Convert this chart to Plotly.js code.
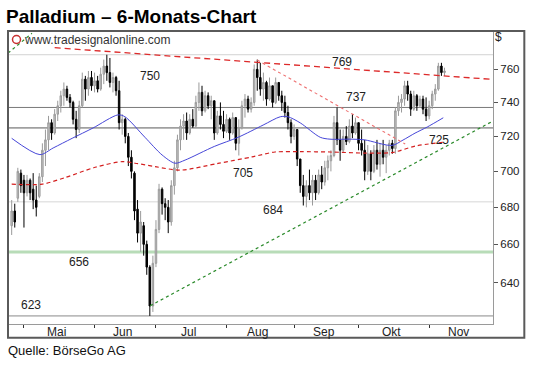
<!DOCTYPE html>
<html><head><meta charset="utf-8">
<script src="https://cdn.plot.ly/plotly-3.0.1.min.js"></script>
<style>html,body{margin:0;padding:0;background:#fff}#chart{width:540px;height:366px}</style>
</head><body><div id="chart"></div>
<script>
// ---- data (trading days from 25 Apr to 8 Nov) ----
const opens  = [670,678,685,699,695,688,695,690,684,686,697,712,718,728,722,733,738,744,748,743,740,730,724,738,754,748,755,750,753,748,757,762,758,752,755,747,728,730,720,708,699,679,666,670,660,648,628,650,668,690,682,680,672,692,702,718,726,729,722,730,726,740,746,735,744,738,741,722,732,727,723,730,722,731,716,725,738,742,736,740,760,755,748,752,742,750,740,752,744,740,734,728,720,724,707,692,686,692,688,695,688,698,694,702,706,709,728,718,712,720,717,726,722,728,716,712,700,710,700,712,704,712,708,712,716,713,735,740,742,750,745,736,744,738,742,736,732,738,745,748,762,758];
const highs  = [684,682,702,701,698,698,696,699,692,699,716,724,732,730,736,741,747,752,750,745,741,735,741,758,756,759,759,758,756,761,766,769,767,758,756,753,733,731,722,712,700,684,678,672,662,649,654,673,693,691,685,684,695,706,721,730,733,734,733,736,744,752,750,747,746,744,741,735,740,735,733,731,734,731,730,741,745,744,743,763,766,764,758,753,755,750,755,752,747,744,738,730,727,724,707,698,695,701,698,698,701,703,706,709,712,732,737,724,724,726,730,733,731,728,724,718,715,712,715,718,716,718,715,718,718,737,744,745,753,753,747,747,745,744,744,743,741,747,751,764,764,761];
const lows   = [665,669,683,688,669,686,684,679,675,685,694,703,712,718,721,729,734,738,741,737,727,719,722,737,741,744,747,746,746,747,751,753,749,746,744,724,721,716,703,696,673,661,656,654,644,623,625,648,666,676,673,666,670,687,700,712,718,718,721,725,725,735,732,734,736,730,718,721,724,719,722,718,721,712,709,724,731,734,734,738,747,744,741,738,741,737,739,741,735,731,724,716,718,703,688,681,680,684,681,684,687,690,692,695,700,708,715,706,711,715,716,719,721,712,709,695,698,695,699,701,697,704,699,709,710,710,732,734,738,741,732,735,735,737,733,729,730,736,741,747,756,756];
const closes = [678,672,700,692,688,695,688,684,680,697,712,718,728,722,733,738,744,748,743,740,730,724,738,754,748,755,750,753,748,757,762,758,752,755,747,728,730,720,708,700,678,666,672,660,648,628,650,668,690,682,680,672,692,702,718,726,729,722,730,726,740,746,735,744,738,741,722,732,727,723,730,722,731,716,725,738,742,736,740,760,755,748,752,742,750,740,752,744,740,734,728,720,724,707,692,686,692,688,695,688,698,694,702,706,709,728,718,712,720,717,726,722,728,716,712,700,710,700,712,704,712,708,712,716,713,735,740,742,750,745,736,744,738,742,736,732,738,745,748,762,758,759];

// moving averages (trading-day index, value)
const blueIdx = [0,9.2,13.5,19.7,26.5,34.6,36.9,43.4,49,53.2,56.5,66,73.8,81.9,87.5,90,94,100.5,103.7,110.9,115,123.9,127.5,131.4,135.4,140.6];
const blueVal = [718.9,709.5,713.3,718.9,724.9,732.6,731.5,719.5,709.3,704.6,706.4,714.2,719.5,726.6,731.5,731.5,727.9,719.5,718.4,718.4,718,714.8,717.9,721.9,725.5,730.9];
const redIdx  = [0,9.9,17.4,27.2,36,40.2,46.7,54.9,67.2,78.3,85.8,94,103.7,115.2,124,131.4,140.6];
const redVal  = [692.8,692.8,696.5,702.3,705.5,704.6,702.7,700.7,704.5,708.2,711,711.2,711,710.4,710.7,714.4,716.6];

// trend lines (endpoints)
const resIdx = [14,160],      resVal = [773.4,753.4];
const downIdx = [80,128.2],   downVal = [765.7,715.6];
const upIdx = [45.1,160],     upVal = [628.1,732.1];
const up2Idx = [-1.2,6.6],    up2Val = [770,782.4];

// horizontal levels
const levels = [769,737,725,683,656,623];
const levelLabels = ['750','769','737','705','684','725','656','623'];

// axis
const months = ['Mai','Jun','Jul','Aug','Sep','Okt','Nov'];
const monthStarts = [4,27,47,70,92,113,136,157];
const yTicks = [640,660,680,700,720,740,760];

// ---- layout helpers ----
const PL=8, PR=492.7, PT=31, PB=324;
const px = x => (x-PL)/(PR-PL);
const py = y => (PB-y)/(PB-PT);
const FONT = '"Liberation Sans", Arial, sans-serif';
const YLO = Math.log10(618.96), YHI = Math.log10(783.85);
const pv = v => (Math.log10(v)-YLO)/(YHI-YLO);

const idx = closes.map((_,i)=>i);

const traces = [
  {type:'candlestick', x:idx, open:opens, high:highs, low:lows, close:closes,
   increasing:{line:{color:'#9a9a9a',width:1}, fillcolor:'#c4c4c4'},
   decreasing:{line:{color:'#000',width:1}, fillcolor:'#000'},
   whiskerwidth:0, hoverinfo:'skip', showlegend:false},
  {type:'scatter', mode:'lines', x:redIdx, y:redVal, line:{color:'#d42020',width:1.2,dash:'4px,3px',shape:'spline',smoothing:0.8}, hoverinfo:'skip'},
  {type:'scatter', mode:'lines', x:blueIdx, y:blueVal, line:{color:'#4646d8',width:1,shape:'spline',smoothing:0.8}, hoverinfo:'skip'},
  {type:'scatter', mode:'lines', x:resIdx, y:resVal, line:{color:'#dd2a2a',width:1.3,dash:'6px,4px'}, hoverinfo:'skip'},
  {type:'scatter', mode:'lines', x:downIdx, y:downVal, line:{color:'#ee7070',width:1.1,dash:'dot'}, hoverinfo:'skip'},
  {type:'scatter', mode:'lines', x:upIdx, y:upVal, line:{color:'#2a8a2a',width:1.2,dash:'dot'}, hoverinfo:'skip'},
  {type:'scatter', mode:'lines', x:up2Idx, y:up2Val, line:{color:'#2a8a2a',width:1.2,dash:'dot'}, hoverinfo:'skip'}
];

const levelStyles = [
  {c:'#d2d2d2',w:1},{c:'#7a7a7a',w:1},{c:'#a0a0a0',w:1.8},{c:'#d6d6d6',w:1},{c:'#b8dcb8',w:3},{c:'#8a8a8a',w:1}
];
const shapes = levels.map((v,k)=>({type:'line',xref:'paper',x0:0,x1:1,yref:'paper',
  y0:pv(v),y1:pv(v),layer:'below',line:{color:levelStyles[k].c,width:levelStyles[k].w}}));
// outer frame
shapes.push({type:'rect',xref:'paper',yref:'paper',x0:px(8),x1:px(524),y0:py(337.7),y1:py(31),
  line:{color:'#5a5a5a',width:2},layer:'above'});
// logo
shapes.push({type:'circle',xref:'paper',yref:'paper',x0:px(12.5),x1:px(20.5),y0:py(43.5),y1:py(35.5),
  line:{color:'#c83030',width:1.5}});

const labelPos = [[150,75.5],[341.7,61.7],[356,96.7],[242.5,173],[273,209.5],[439,139.5],[79,262],[30.7,304.5]];
const annotations = levelLabels.map((t,k)=>({text:t,xref:'paper',yref:'paper',x:px(labelPos[k][0]),y:py(labelPos[k][1]),
  showarrow:false,xanchor:'center',yanchor:'middle',font:{family:FONT,size:12,color:'#222'}}));
months.forEach((m,k)=>{
  annotations.push({text:m,xref:'x',yref:'paper',x:(monthStarts[k]+monthStarts[k+1])/2,xshift:-2.5,y:py(332),
    showarrow:false,xanchor:'center',yanchor:'middle',font:{family:FONT,size:12,color:'#222'}});
});
annotations.push({text:'www.tradesignalonline.com',xref:'paper',yref:'paper',x:px(21.5),y:py(39.5),xanchor:'left',yanchor:'middle',
  showarrow:false,font:{family:FONT,size:12,color:'#333'}});
annotations.push({text:'$',xref:'paper',yref:'paper',x:px(497.7),y:py(36.7),xanchor:'center',yanchor:'middle',
  showarrow:false,font:{family:FONT,size:12,color:'#222'}});
annotations.push({text:'Quelle: BörseGo AG',xref:'paper',yref:'paper',x:px(6),y:py(350.5),xanchor:'left',yanchor:'middle',
  showarrow:false,font:{family:FONT,size:13,color:'#111'}});

const layout = {
  width:540, height:366,
  margin:{l:PL, r:540-PR, t:PT, b:366-PB, pad:0},
  paper_bgcolor:'#fff', plot_bgcolor:'#fff',
  showlegend:false, hovermode:false,
  title:{text:'Palladium – 6-Monats-Chart', x:6/540, xanchor:'left', xref:'container',
         y:1-16.5/366, yanchor:'middle', yref:'container',
         font:{family:FONT,size:19,color:'#000',weight:'bold'}},
  xaxis:{type:'linear', range:[-1.2,156.8], showgrid:false, zeroline:false,
         showline:true, linecolor:'#9a9a9a', linewidth:1,
         tickmode:'array', tickvals:monthStarts, ticks:'outside', ticklen:3, tickcolor:'#333', tickwidth:1,
         showticklabels:false, rangeslider:{visible:false}, fixedrange:true},
  yaxis:{type:'log', side:'right', range:[YLO, YHI],
         showgrid:false, zeroline:false, showline:true, linecolor:'#9a9a9a', linewidth:1,
         tickmode:'array', tickvals:yTicks, ticktext:yTicks.map(String),
         ticks:'outside', ticklen:4, tickcolor:'#555',
         tickfont:{family:FONT,size:11.5,color:'#222'}, fixedrange:true},
  shapes:shapes, annotations:annotations
};

Plotly.newPlot('chart', traces, layout, {staticPlot:true, displayModeBar:false});
</script></body></html>
